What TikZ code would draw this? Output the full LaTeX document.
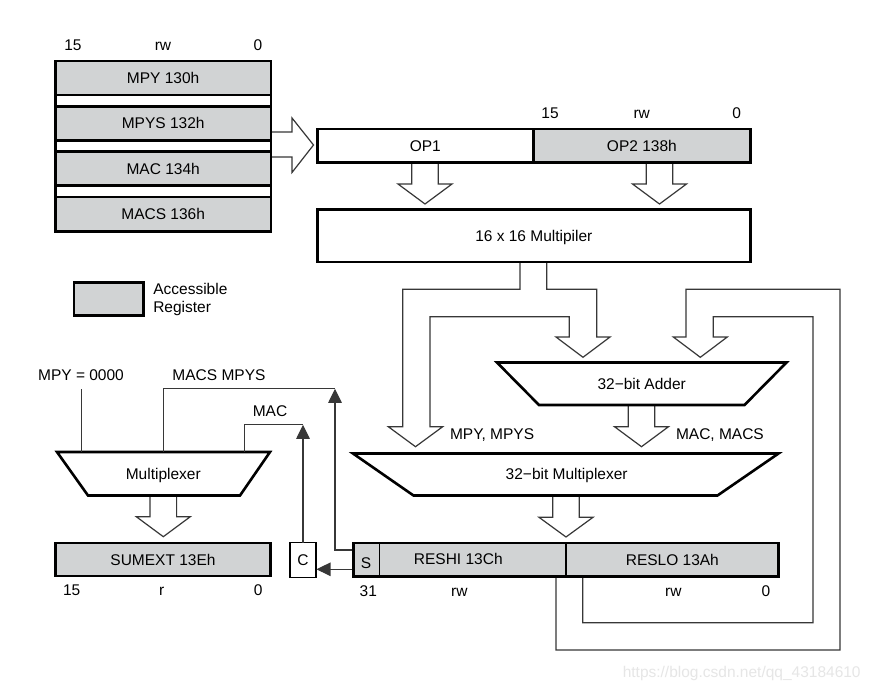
\documentclass[tikz,border=0pt]{standalone}
\usepackage{fontspec}
\setmainfont{Liberation Sans}
\usetikzlibrary{arrows.meta}
\definecolor{regfill}{RGB}{209,211,212}
\definecolor{linegray}{RGB}{55,55,55}
\definecolor{wmark}{RGB}{230,230,230}
\newcommand\hollowdown[4]{%
  \filldraw[hollow] ({#1-13.3},#2) -- ({#1-13.3},#3) -- ({#1-27},#3) -- (#1,#4) -- ({#1+27},#3) -- ({#1+13.3},#3) -- ({#1+13.3},#2);}
\begin{document}
\begin{tikzpicture}[x=1pt,y=-1pt,
  every node/.style={font=\fontsize{15.5}{17.5}\selectfont, inner sep=0pt, outer sep=0pt, text height=11.1pt, text depth=0pt},
  regbox/.style={draw=black, line width=2.6pt, fill=regfill},
  plainbox/.style={draw=black, line width=2.6pt, fill=white},
  hollow/.style={draw=linegray, line width=1.2pt, fill=white},
  sig/.style={draw=linegray, line width=1.1pt},
  sigarrow/.style={sig, -{Triangle[length=14pt,width=13.5pt]}},
  bits/.style={anchor=base},
]
\useasboundingbox (0,0) rectangle (873,692);
\fill[white] (0,0) rectangle (873,692);

% hollow data arrows (drawn first, boxes cover their roots)
\filldraw[hollow] (271,132) -- (292,132) -- (292,118) -- (313.5,145) -- (292,172.5) -- (292,157) -- (271,157);
\hollowdown{425}{163}{184}{204}
\hollowdown{659.5}{163}{184}{204}
\hollowdown{163.3}{495}{516.7}{536.7}
\hollowdown{641.5}{405}{426.7}{446.7}
\hollowdown{566}{496}{517.3}{537}
% fork from multiplier to adder and 32-bit multiplexer
\filldraw[hollow] (520,262) -- (520,289.3) -- (402.7,289.3) -- (402.7,426.7) -- (388.3,426.7) -- (415.5,446.7) -- (442.7,426.7) -- (430,426.7) -- (430,316.7) -- (569.3,316.7) -- (569.3,337) -- (556,337) -- (583,357.3) -- (610,337) -- (596.7,337) -- (596.7,289.3) -- (546.7,289.3) -- (546.7,262);
% feedback loop from RES to adder
\filldraw[hollow] (556,577) -- (556,650) -- (840,650) -- (840,289.3) -- (686,289.3) -- (686,337) -- (673.3,337) -- (700.3,357.3) -- (727.3,337) -- (713.3,337) -- (713.3,316.7) -- (813,316.7) -- (813,622.7) -- (582.7,622.7) -- (582.7,577);

% register stack
\draw[line width=2.6pt, fill=white] (55.3,61.3) rectangle (271,232);
\node[regbox, minimum width=215.7pt, minimum height=34pt] (mpy) at (163.15,78) {MPY 130h};
\node[regbox, minimum width=215.7pt, minimum height=34pt] (mpys) at (163.15,123.4) {MPYS 132h};
\node[regbox, minimum width=215.7pt, minimum height=34pt] (mac) at (163.15,168.8) {MAC 134h};
\node[regbox, minimum width=215.7pt, minimum height=34pt] (macs) at (163.15,214.2) {MACS 136h};
\node[bits] (t15) at (73,51) {15};
\node[bits] (trw) at (163,51) {rw};
\node[bits] (t0) at (258,51) {0};

% operands
\node[plainbox, minimum width=216pt, minimum height=33.7pt] (op1) at (425.3,145.8) {OP1};
\node[regbox, minimum width=217.1pt, minimum height=33.7pt] (op2) at (641.85,145.8) {OP2 138h};
\node[bits] (o15) at (550,119) {15};
\node[bits] (orw) at (641.7,119) {rw};
\node[bits] (o0) at (736.7,119) {0};

% multiplier
\node[plainbox, minimum width=433.1pt, minimum height=52.4pt] (mult) at (533.85,235.8) {16 x 16 Multipiler};

% legend
\node[regbox, minimum width=69.7pt, minimum height=33.1pt] (legend) at (108.85,298.85) {};
\node[anchor=west] (acc) at (153.3,289.2) {Accessible};
\node[anchor=west] (regl) at (153.3,306.7) {Register};

% adder
\filldraw[plainbox] (497,362.5) -- (786.5,362.5) -- (744.5,405) -- (539,405) -- cycle;
\node (adder) at (641.7,383.8) {32−bit Adder};
\node[anchor=west] (lmpy) at (450,433.7) {MPY, MPYS};
\node[anchor=west] (lmac) at (676,433.7) {MAC, MACS};

% 32-bit multiplexer
\filldraw[plainbox] (353,453.5) -- (778.5,453.5) -- (717.5,495.5) -- (413.5,495.5) -- cycle;
\node (mux32) at (566.7,473.8) {32−bit Multiplexer};

% result registers
\node[regbox, minimum width=212.4pt, minimum height=33.7pt] (reshi) at (459.8,559.8) {};
\node[regbox, minimum width=212.7pt, minimum height=33.7pt] (reslo) at (672.35,559.8) {RESLO 13Ah};
\draw[line width=1.1pt] (379.3,544.3) -- (379.3,575.3);
\node (s) at (366,563) {S};
\node (reshitxt) at (458.3,559.2) {RESHI 13Ch};
\node[bits] (r31) at (368.3,596) {31};
\node[bits] (rrw1) at (459.3,596) {rw};
\node[bits] (rrw2) at (673.3,596) {rw};
\node[bits] (r0) at (766,596) {0};

% 16-bit multiplexer
\filldraw[plainbox] (57,452) -- (270,452) -- (240,495.5) -- (88,495.5) -- cycle;
\node (mux16) at (163.3,473.8) {Multiplexer};
\node (mpyz) at (81,375.3) {MPY = 0000};
\node (lmacs) at (219,375.3) {MACS MPYS};
\node (lmacc) at (270,410.5) {MAC};

% SUMEXT
\node[regbox, minimum width=214.8pt, minimum height=33pt] (sumext) at (163,559.5) {SUMEXT 13Eh};
\node[bits] (s15) at (71.7,595) {15};
\node[bits] (sr) at (161.7,595) {r};
\node[bits] (s0) at (258.3,595) {0};

% carry box
\node[draw=black, line width=1.3pt, fill=white, minimum width=26pt, minimum height=35pt] (cbox) at (303,560) {C};

% control signals
\draw[sig] (81.7,389.3) -- (81.7,452);
\draw[sig] (163.3,452) -- (163.3,388.3) -- (335,388.3);
\draw[sig] (244.3,452) -- (244.3,424.3) -- (303,424.3);
\draw[sigarrow] (352.3,550) -- (335,550) -- (335,388.8);
\draw[sigarrow] (cbox.north) -- (303,424.8);
\draw[sigarrow] (352.3,569.3) -- (316.5,569.3);

% watermark
\node[text=wmark] (wm) at (741.7,671.7) {https://blog.csdn.net/qq\_43184610};
\end{tikzpicture}
\end{document}
